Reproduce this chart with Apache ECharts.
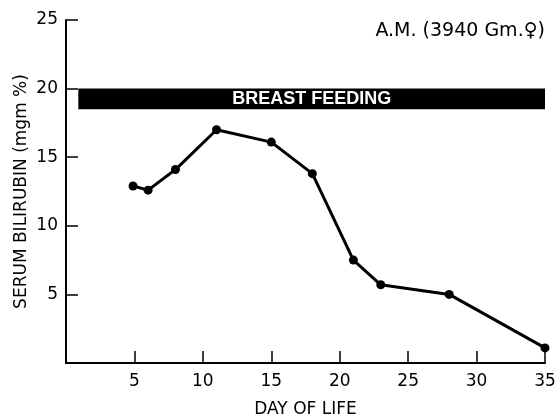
<!DOCTYPE html>
<html>
<head>
<meta charset="utf-8">
<script src="https://cdn.jsdelivr.net/npm/echarts@6/dist/echarts.min.js"></script>
<style>html,body{margin:0;padding:0;background:#fff}#c{width:559px;height:416px}</style>
</head>
<body>
<div id="c"></div>
<script>
var days = [4.9, 6, 8, 11, 15, 18, 21, 23, 28, 35];
var bilirubin = [12.9, 12.6, 14.1, 17.0, 16.1, 13.8, 7.5, 5.7, 5.0, 1.1];
var feedingStart = 0.9, feedingEnd = 35, feedingTop = 20, feedingBottom = 18.5;
var feedingLabel = 'BREAST FEEDING';
var titleText = 'A.M. (3940 Gm.\u2640)';
var xName = 'DAY OF LIFE';
var yName = 'SERUM BILIRUBIN (mgm %)';

var font = 'DejaVu Sans, Verdana, sans-serif';
var chart = echarts.init(document.getElementById('c'));
chart.setOption({
  animation: false,
  backgroundColor: '#fff',
  title: {
    text: titleText, right: 9, top: 17,
    textStyle: {fontFamily: font, fontSize: 19, fontWeight: 'normal', color: '#000'}
  },
  grid: {left: 66, right: 14, top: 20, bottom: 53, containLabel: false, outerBoundsMode: 'none'},
  xAxis: {
    type: 'value', min: 0, max: 35, interval: 5,
    name: xName, nameLocation: 'middle', nameGap: 38,
    nameTextStyle: {fontFamily: font, fontSize: 17, color: '#000'},
    axisLine: {show: true, lineStyle: {color: '#000', width: 2}},
    axisTick: {show: true, inside: true, length: 12, lineStyle: {color: '#000', width: 1.5}},
    axisLabel: {fontFamily: font, fontSize: 17, color: '#000', margin: 10,
      formatter: function (v) { return v === 0 ? '' : v; }},
    splitLine: {show: false}
  },
  yAxis: {
    type: 'value', min: 0, max: 25, interval: 5,
    name: yName, nameLocation: 'middle', nameGap: 36, nameRotate: 90, nameMoveOverlap: false,
    nameTextStyle: {fontFamily: font, fontSize: 17, color: '#000'},
    axisLine: {show: true, lineStyle: {color: '#000', width: 2}},
    axisTick: {show: true, inside: true, length: 12, lineStyle: {color: '#000', width: 1.5}},
    axisLabel: {fontFamily: font, fontSize: 17, color: '#000', margin: 8,
      formatter: function (v) { return v === 0 ? '' : v; }},
    splitLine: {show: false}
  },
  series: [{
    type: 'line',
    data: days.map(function (d, i) { return [d, bilirubin[i]]; }),
    symbol: 'circle', symbolSize: 9,
    lineStyle: {color: '#000', width: 3},
    itemStyle: {color: '#000'},
    markArea: {
      silent: true,
      itemStyle: {color: '#000'},
      label: {show: true, position: 'inside', color: '#fff', fontFamily: 'Liberation Sans Narrow, Arial Narrow, sans-serif',
        fontWeight: 'bold', fontSize: 18},
      data: [[{name: feedingLabel, coord: [feedingStart, feedingTop]}, {coord: [feedingEnd, feedingBottom]}]]
    }
  }]
});
</script>
</body>
</html>
